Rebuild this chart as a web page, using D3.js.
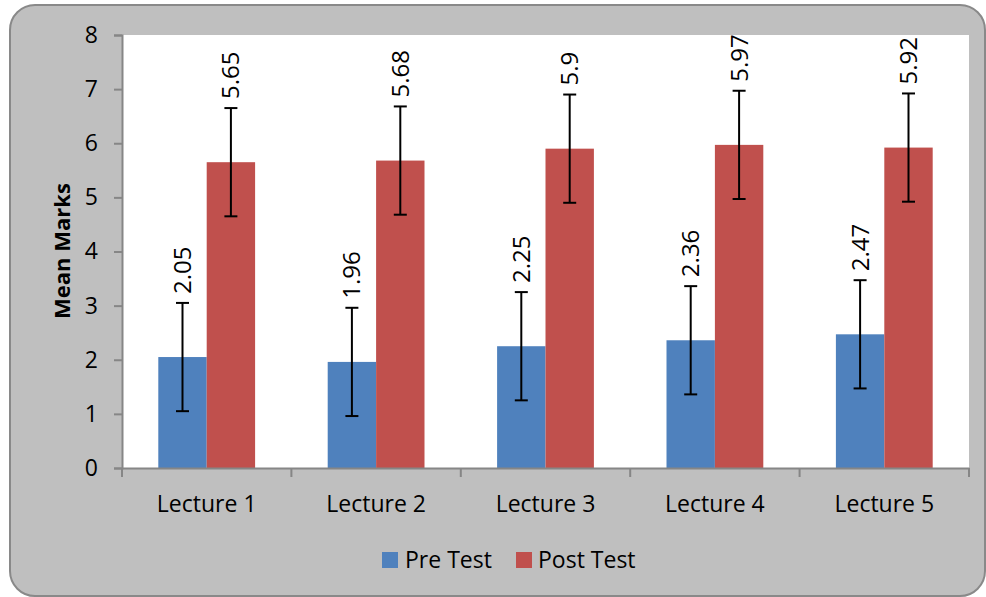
<!DOCTYPE html>
<html>
<head>
<meta charset="utf-8">
<script src="https://cdn.jsdelivr.net/npm/d3@7"></script>
<style>
  html, body { margin: 0; padding: 0; background: #ffffff; }
  svg { display: block; font-family: "Open Sans", "DejaVu Sans", sans-serif; }
</style>
</head>
<body>
<svg id="chart" width="986" height="597"></svg>
<script>
const categories = ["Lecture 1", "Lecture 2", "Lecture 3", "Lecture 4", "Lecture 5"];
const seriesNames = ["Pre Test", "Post Test"];
const preTest = [2.05, 1.96, 2.25, 2.36, 2.47];
const postTest = [5.65, 5.68, 5.9, 5.97, 5.92];
const preError = [1, 1, 1, 1, 1];
const postError = [1, 1, 1, 1, 1];
const yTicks = [0, 1, 2, 3, 4, 5, 6, 7, 8];
const colors = ["#4f81bd", "#c0504d"];

const seriesValues = [preTest, postTest];
const seriesErrors = [preError, postError];

const svg = d3.select("#chart");

// outer frame
svg.append("rect")
  .attr("x", 10).attr("y", 5).attr("width", 975).attr("height", 591)
  .attr("rx", 25).attr("ry", 25)
  .attr("fill", "#bfbfbf").attr("stroke", "#898989").attr("stroke-width", 2);

const pLeft = 122, pRight = 969, pTop = 35, pBottom = 468;

// plot area
svg.append("rect")
  .attr("x", pLeft).attr("y", pTop).attr("width", pRight - pLeft).attr("height", pBottom - pTop)
  .attr("fill", "#ffffff");

const y = d3.scaleLinear().domain([0, 8]).range([pBottom, pTop]);
const x0 = d3.scaleBand().domain(categories).range([pLeft, pRight]).paddingInner(0).paddingOuter(0);
const x1 = d3.scaleBand().domain(seriesNames).range([0, x0.bandwidth()]).paddingInner(0).paddingOuter(0.75);

// bars
const data = [];
categories.forEach((c, i) => {
  seriesNames.forEach((s, j) => {
    data.push({ cat: c, series: s, si: j, value: seriesValues[j][i], err: seriesErrors[j][i] });
  });
});

svg.append("g").selectAll("rect").data(data).enter().append("rect")
  .attr("x", d => x0(d.cat) + x1(d.series))
  .attr("y", d => y(d.value))
  .attr("width", x1.bandwidth())
  .attr("height", d => y(0) - y(d.value))
  .attr("fill", d => colors[d.si]);

// axes
const yAxis = d3.axisLeft(y).tickValues(yTicks).tickSize(8).tickPadding(16).tickFormat(d3.format("d"));
const gy = svg.append("g").attr("transform", `translate(${pLeft},0)`).call(yAxis);
gy.select(".domain").attr("stroke", "#868686").attr("stroke-width", 2);
gy.selectAll(".tick line").attr("stroke", "#868686").attr("stroke-width", 2);
gy.selectAll(".tick text").attr("font-size", 23).attr("fill", "#000").attr("font-family", "Open Sans");

const xAxis = d3.axisBottom(x0).tickSize(0).tickPadding(28);
const gx = svg.append("g").attr("transform", `translate(0,${pBottom})`).call(xAxis);
gx.select(".domain").attr("stroke", "#868686").attr("stroke-width", 2);
gx.selectAll(".tick text").attr("font-size", 23).attr("fill", "#000").attr("font-family", "Open Sans");

// category boundary ticks
const bounds = categories.map(c => x0(c)).concat([x0(categories[categories.length - 1]) + x0.bandwidth()]);
svg.append("g").selectAll("line").data(bounds).enter().append("line")
  .attr("x1", d => d).attr("x2", d => d)
  .attr("y1", pBottom).attr("y2", pBottom + 9)
  .attr("stroke", "#868686").attr("stroke-width", 2);

// error bars
const eg = svg.append("g").attr("stroke", "#000").attr("stroke-width", 2);
data.forEach(d => {
  const cx = x0(d.cat) + x1(d.series) + x1.bandwidth() / 2;
  const yt = y(d.value + d.err), yb = y(d.value - d.err);
  eg.append("line").attr("x1", cx).attr("x2", cx).attr("y1", yt).attr("y2", yb);
  eg.append("line").attr("x1", cx - 6.5).attr("x2", cx + 6.5).attr("y1", yt).attr("y2", yt);
  eg.append("line").attr("x1", cx - 6.5).attr("x2", cx + 6.5).attr("y1", yb).attr("y2", yb);
});

// value labels
svg.append("g").selectAll("text").data(data).enter().append("text")
  .attr("transform", d => {
    const cx = x0(d.cat) + x1(d.series) + x1.bandwidth() / 2 - 1;
    const yt = y(d.value + d.err) - 9;
    return `translate(${cx},${yt}) rotate(-90)`;
  })
  .attr("text-anchor", "start")
  .attr("dominant-baseline", "central")
  .attr("font-size", 24)
  .attr("fill", "#000")
  .text(d => d.value);

// y axis title
svg.append("text")
  .attr("transform", `translate(61,${(182 + 320) / 2}) rotate(-90)`)
  .attr("text-anchor", "middle")
  .attr("dominant-baseline", "central")
  .attr("font-size", 22)
  .attr("font-weight", "bold")
  .attr("fill", "#000")
  .text("Mean Marks");

// legend
const legendItems = [{ name: seriesNames[0], x: 382, tx: 405 }, { name: seriesNames[1], x: 516, tx: 538 }];
const lg = svg.append("g");
legendItems.forEach((it, i) => {
  lg.append("rect").attr("x", it.x).attr("y", 552).attr("width", 16).attr("height", 16).attr("fill", colors[i]);
  lg.append("text").attr("x", it.tx).attr("y", 559).attr("dominant-baseline", "central")
    .attr("font-size", 23).attr("fill", "#000").text(it.name);
});
</script>
</body>
</html>
